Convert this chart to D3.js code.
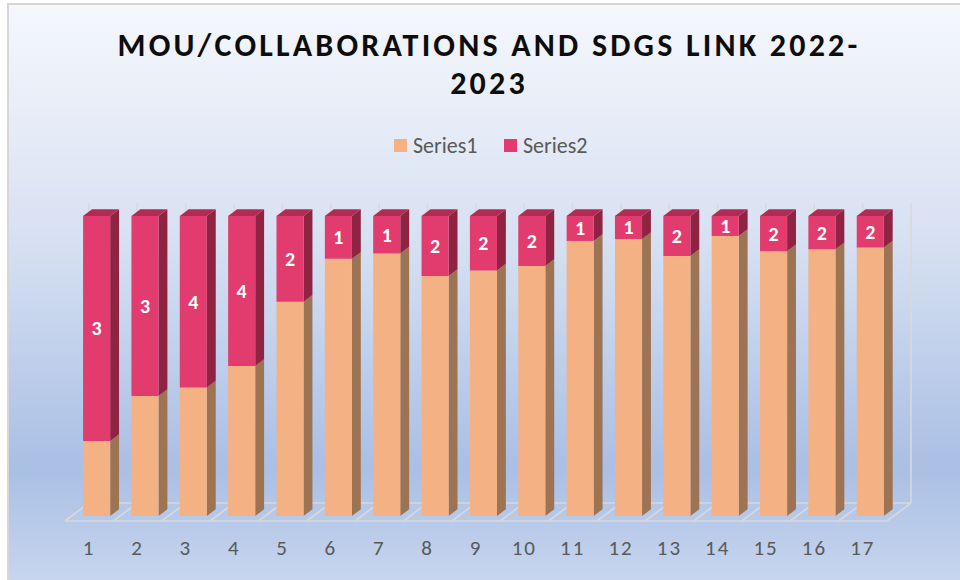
<!DOCTYPE html>
<html>
<head>
<meta charset="utf-8">
<script src="https://cdn.jsdelivr.net/npm/d3@7"></script>
<style>
  body { margin: 0; background: #fff; }
  svg text { font-family: Carlito, "Liberation Sans Narrow", "Open Sans", sans-serif; }
</style>
</head>
<body>
<div id="mydraw"></div>
<script>

// ---------------
// data

var categories = ["1","2","3","4","5","6","7","8","9","10","11","12","13","14","15","16","17"];
var series1 = [1, 2, 3, 4, 5, 6, 7, 8, 9, 10, 11, 12, 13, 14, 15, 16, 17];
var series2 = [3, 3, 4, 4, 2, 1, 1, 2, 2, 2, 1, 1, 2, 1, 2, 2, 2];
var seriesNames = ["Series1", "Series2"];
var titleLines = ["MOU/COLLABORATIONS AND SDGS LINK 2022-", "2023"];

var W = 960, H = 580;

var svg = d3.select("div#mydraw").append("svg")
    .attr("width", W)
    .attr("height", H);

// ---------------
// background with gradient

var defs = svg.append("defs");
var grad = defs.append("linearGradient")
    .attr("id", "bg")
    .attr("x1", 0).attr("y1", 0).attr("x2", 0).attr("y2", 1);
grad.append("stop").attr("offset", "0%").attr("stop-color", "#f5f7fc");
grad.append("stop").attr("offset", "40%").attr("stop-color", "#d8e1f2");
grad.append("stop").attr("offset", "80%").attr("stop-color", "#a9bfe4");
grad.append("stop").attr("offset", "100%").attr("stop-color", "#c8d6ef");

svg.append("rect")
    .attr("x", 8).attr("y", 4)
    .attr("width", W).attr("height", H)
    .attr("fill", "url(#bg)")
    .attr("stroke", "#d6d6d6")
    .attr("stroke-width", 2);

// ---------------
// title + legend

svg.selectAll("text.title")
    .data(titleLines)
    .enter().append("text")
    .attr("class", "title")
    .attr("x", 489)
    .attr("y", function(d, i) { return 56 + i * 38; })
    .attr("text-anchor", "middle")
    .attr("font-size", 32)
    .attr("font-weight", "bold")
    .attr("letter-spacing", 3.2)
    .attr("fill", "#0d0d0d")
    .text(function(d) { return d; });

var colors = {
    Series1: { front: "#f4b183", side: "#9d7453", top: "#c98f66" },
    Series2: { front: "#e23b6d", side: "#8f2342", top: "#b02c55" }
};

var legend = svg.append("g");
var legX = [394, 504];
seriesNames.forEach(function(s, i) {
    legend.append("rect")
        .attr("x", legX[i]).attr("y", 139)
        .attr("width", 13).attr("height", 13)
        .attr("fill", colors[s].front);
    legend.append("text")
        .attr("x", legX[i] + 19).attr("y", 153)
        .attr("font-size", 22)
        .attr("fill", "#595959")
        .text(s);
});

// ---------------
// 3D plot geometry

var floorL = 65, floorR = 887;
var yFront = 521;
var depth = { dx: 24, dy: -18 };   // full floor depth
var barZ0 = 0.28, barZ1 = 0.65;     // bar front / back as fraction of depth

var x = d3.scaleBand()
    .domain(categories)
    .range([floorL, floorR])
    .paddingInner(0).paddingOuter(0);

var y = d3.scaleLinear()
    .domain([0, 1])
    .range([0, 300]);

function pt(px, v, z) {
    // px = x on the front plane, v = value 0..1, z = depth fraction
    return [px + depth.dx * z, yFront - y(v) + depth.dy * z];
}

var grid = svg.append("g")
    .attr("stroke", "#d9d9d9")
    .attr("stroke-width", 1.6)
    .attr("fill", "none");

var bounds = categories.map(function(c) { return x(c); }).concat([floorR]);

// back wall verticals
bounds.forEach(function(b) {
    var p0 = pt(b, 0, 1), p1 = pt(b, 1, 1);
    grid.append("line")
        .attr("x1", p0[0]).attr("y1", p0[1])
        .attr("x2", p1[0]).attr("y2", p1[1]);
});

// floor
bounds.forEach(function(b) {
    var p0 = pt(b, 0, 0), p1 = pt(b, 0, 1);
    grid.append("line")
        .attr("x1", p0[0]).attr("y1", p0[1])
        .attr("x2", p1[0]).attr("y2", p1[1]);
});
[0, 1].forEach(function(z) {
    var p0 = pt(floorL, 0, z), p1 = pt(floorR, 0, z);
    grid.append("line")
        .attr("x1", p0[0]).attr("y1", p0[1])
        .attr("x2", p1[0]).attr("y2", p1[1]);
});

// ---------------
// stacked bars (100%)

var table = categories.map(function(c, i) {
    return { cat: c, Series1: series1[i], Series2: series2[i] };
});

var stacked = d3.stack()
    .keys(seriesNames)
    .offset(d3.stackOffsetExpand)(table);

var bw = x.bandwidth();
var gap = bw * 0.235, barW = bw * 0.56;

function poly(pts) {
    return pts.map(function(p) { return p.join(","); }).join(" ");
}

var bars = svg.append("g");

categories.forEach(function(c, i) {
    var left = x(c) + gap, right = left + barW;
    var g = bars.append("g");
    stacked.forEach(function(layer) {
        var d = layer[i];
        var col = colors[layer.key];
        var v0 = d[0], v1 = d[1];
        if (v1 - v0 <= 0) return;
        // side face
        g.append("polygon")
            .attr("points", poly([pt(right, v0, barZ0), pt(right, v0, barZ1), pt(right, v1, barZ1), pt(right, v1, barZ0)]))
            .attr("fill", col.side);
        // front face
        g.append("polygon")
            .attr("points", poly([pt(left, v0, barZ0), pt(right, v0, barZ0), pt(right, v1, barZ0), pt(left, v1, barZ0)]))
            .attr("fill", col.front);
        // top face only for the highest segment
        if (v1 >= 0.9999) {
            g.append("polygon")
                .attr("points", poly([pt(left, v1, barZ0), pt(right, v1, barZ0), pt(right, v1, barZ1), pt(left, v1, barZ1)]))
                .attr("fill", col.top);
        }
    });

    // data label of Series2
    var s2 = stacked[1][i];
    var mid = pt((left + right) / 2, (s2[0] + s2[1]) / 2, barZ0);
    g.append("text")
        .attr("x", mid[0])
        .attr("y", mid[1] + 7)
        .attr("text-anchor", "middle")
        .attr("font-size", 20)
        .attr("font-weight", "bold")
        .attr("fill", "#ffffff")
        .text(series2[i]);
});

// ---------------
// category labels

svg.append("g").selectAll("text")
    .data(categories)
    .enter().append("text")
    .attr("x", function(d) { return x(d) + bw / 2; })
    .attr("y", 555)
    .attr("text-anchor", "middle")
    .attr("font-size", 21)
    .attr("letter-spacing", 2)
    .attr("fill", "#595959")
    .text(function(d) { return d; });

</script>
</body>
</html>
